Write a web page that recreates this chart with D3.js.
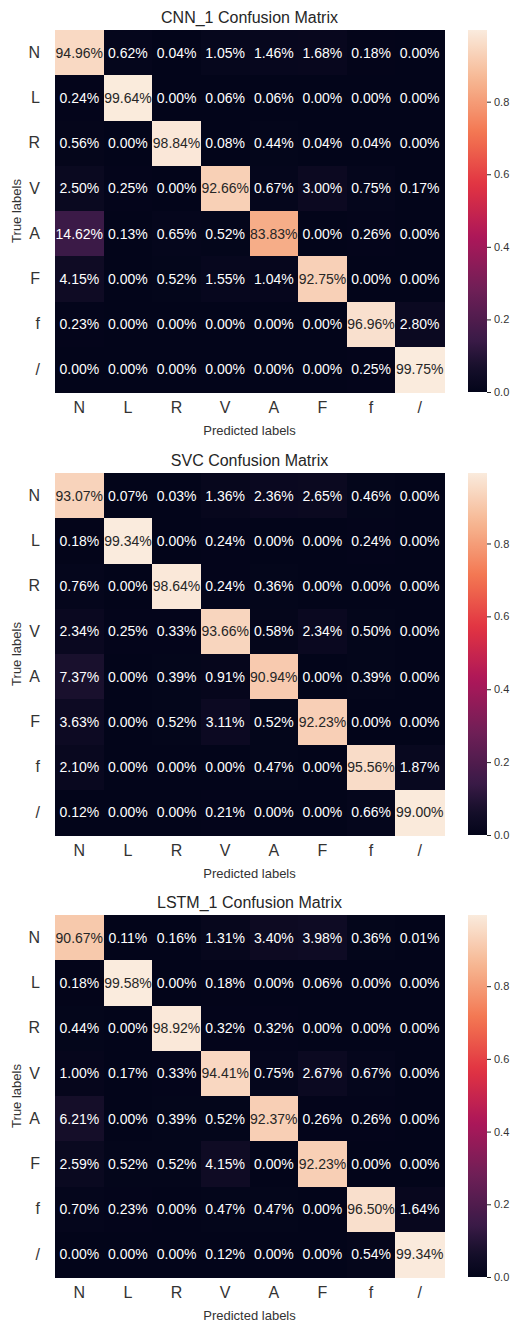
<!DOCTYPE html>
<html>
<head>
<meta charset="utf-8">
<script src="https://cdn.jsdelivr.net/npm/d3@7"></script>
<style>
  body { margin: 0; background: #fff; }
  svg { display: block; font-family: "Liberation Sans", Arial, sans-serif; }
  .domain { display: none; }
  .tick text { fill: #333333; }
  rect.cell { shape-rendering: crispEdges; }
</style>
</head>
<body>
<div id="chart"></div>
<script>
// class labels (rows = true, columns = predicted)
const classLabels = ['N', 'L', 'R', 'V', 'A', 'F', 'f', '/'];
const titles = ['CNN_1 Confusion Matrix', 'SVC Confusion Matrix', 'LSTM_1 Confusion Matrix'];

// percentages, as printed in the cells
const cnnValues = [
    [94.96, 0.62, 0.04, 1.05, 1.46, 1.68, 0.18, 0.00],
    [0.24, 99.64, 0.00, 0.06, 0.06, 0.00, 0.00, 0.00],
    [0.56, 0.00, 98.84, 0.08, 0.44, 0.04, 0.04, 0.00],
    [2.50, 0.25, 0.00, 92.66, 0.67, 3.00, 0.75, 0.17],
    [14.62, 0.13, 0.65, 0.52, 83.83, 0.00, 0.26, 0.00],
    [4.15, 0.00, 0.52, 1.55, 1.04, 92.75, 0.00, 0.00],
    [0.23, 0.00, 0.00, 0.00, 0.00, 0.00, 96.96, 2.80],
    [0.00, 0.00, 0.00, 0.00, 0.00, 0.00, 0.25, 99.75]
];
const svcValues = [
    [93.07, 0.07, 0.03, 1.36, 2.36, 2.65, 0.46, 0.00],
    [0.18, 99.34, 0.00, 0.24, 0.00, 0.00, 0.24, 0.00],
    [0.76, 0.00, 98.64, 0.24, 0.36, 0.00, 0.00, 0.00],
    [2.34, 0.25, 0.33, 93.66, 0.58, 2.34, 0.50, 0.00],
    [7.37, 0.00, 0.39, 0.91, 90.94, 0.00, 0.39, 0.00],
    [3.63, 0.00, 0.52, 3.11, 0.52, 92.23, 0.00, 0.00],
    [2.10, 0.00, 0.00, 0.00, 0.47, 0.00, 95.56, 1.87],
    [0.12, 0.00, 0.00, 0.21, 0.00, 0.00, 0.66, 99.00]
];
const lstmValues = [
    [90.67, 0.11, 0.16, 1.31, 3.40, 3.98, 0.36, 0.01],
    [0.18, 99.58, 0.00, 0.18, 0.00, 0.06, 0.00, 0.00],
    [0.44, 0.00, 98.92, 0.32, 0.32, 0.00, 0.00, 0.00],
    [1.00, 0.17, 0.33, 94.41, 0.75, 2.67, 0.67, 0.00],
    [6.21, 0.00, 0.39, 0.52, 92.37, 0.26, 0.26, 0.00],
    [2.59, 0.52, 0.52, 4.15, 0.00, 92.23, 0.00, 0.00],
    [0.70, 0.23, 0.00, 0.47, 0.47, 0.00, 96.50, 1.64],
    [0.00, 0.00, 0.00, 0.12, 0.00, 0.00, 0.54, 99.34]
];
const colorbarTicks = [0.0, 0.2, 0.4, 0.6, 0.8];

// seaborn "rocket" colormap stops
const rocketStops = [0, 0.07, 1 / 7, 2 / 7, 3 / 7, 4 / 7, 5 / 7, 6 / 7, 1];
const rocketColors = ['#03051a', '#170f2b', '#3a1a47', '#701f57', '#ad1759', '#e13342', '#f37651', '#f6b48f', '#faebdd'];

const width = 520, height = 1322;
const gridLeft = 55, gridRight = 444, gridHeight = 362;
const panelTops = [30, 473, 915];
const cbLeft = 468, cbWidth = 19;

const svg = d3.select('#chart').append('svg')
    .attr('width', width)
    .attr('height', height);

const defs = svg.append('defs');

[cnnValues, svcValues, lstmValues].forEach((matrix, p) => {
    const top = panelTops[p];
    const bottom = top + gridHeight;
    const vmin = d3.min(matrix.flat()) / 100;
    const vmax = d3.max(matrix.flat()) / 100;

    const x = d3.scaleBand().domain(classLabels).range([gridLeft, gridRight]);
    const y = d3.scaleBand().domain(classLabels).range([top, bottom]);
    const color = d3.scaleLinear()
        .domain(rocketStops.map(s => vmin + s * (vmax - vmin)))
        .range(rocketColors)
        .interpolate(d3.interpolateRgb)
        .clamp(true);

    const g = svg.append('g');

    let cells = [];
    matrix.forEach((row, i) => row.forEach((v, j) => {
        cells.push({ row: classLabels[i], col: classLabels[j], value: v });
    }));

    g.selectAll('rect.cell')
        .data(cells)
        .enter().append('rect')
        .attr('class', 'cell')
        .attr('x', d => x(d.col))
        .attr('y', d => y(d.row))
        .attr('width', x.bandwidth() + 0.6)
        .attr('height', y.bandwidth() + 0.6)
        .attr('fill', d => color(d.value / 100));

    g.selectAll('text.annot')
        .data(cells)
        .enter().append('text')
        .attr('class', 'annot')
        .attr('x', d => x(d.col) + x.bandwidth() / 2)
        .attr('y', d => y(d.row) + y.bandwidth() / 2)
        .attr('dy', '0.36em')
        .attr('text-anchor', 'middle')
        .attr('font-size', 14)
        .attr('fill', d => {
            let c = d3.rgb(color(d.value / 100));
            let lum = 0.2126 * c.r + 0.7152 * c.g + 0.0722 * c.b;
            return lum / 255 > 0.408 ? '#262626' : '#ffffff';
        })
        .text(d => d.value.toFixed(2) + '%');

    // axes
    g.append('g')
        .attr('transform', `translate(0,${bottom})`)
        .call(d3.axisBottom(x).tickSize(0).tickPadding(10))
        .call(a => a.selectAll('text').attr('font-size', 16).attr('font-family', null));

    g.append('g')
        .attr('transform', `translate(${gridLeft},0)`)
        .call(d3.axisLeft(y).tickSize(0).tickPadding(15))
        .call(a => a.selectAll('text').attr('font-size', 16).attr('font-family', null));

    g.append('text')
        .attr('x', (gridLeft + gridRight) / 2)
        .attr('y', top - 7)
        .attr('text-anchor', 'middle')
        .attr('font-size', 16)
        .attr('fill', '#262626')
        .text(titles[p]);

    g.append('text')
        .attr('x', (gridLeft + gridRight) / 2)
        .attr('y', bottom + 43)
        .attr('text-anchor', 'middle')
        .attr('font-size', 13)
        .attr('fill', '#333333')
        .text('Predicted labels');

    g.append('text')
        .attr('transform', `translate(21,${(top + bottom) / 2}) rotate(-90)`)
        .attr('text-anchor', 'middle')
        .attr('font-size', 13)
        .attr('fill', '#333333')
        .text('True labels');

    // colorbar
    const gradId = 'cb-grad-' + p;
    const grad = defs.append('linearGradient')
        .attr('id', gradId)
        .attr('x1', 0).attr('y1', 1).attr('x2', 0).attr('y2', 0);
    grad.selectAll('stop')
        .data(d3.range(0, 1.0001, 0.02))
        .enter().append('stop')
        .attr('offset', d => d)
        .attr('stop-color', d => color(vmin + d * (vmax - vmin)));

    const cbScale = d3.scaleLinear().domain([vmin, vmax]).range([bottom, top]);

    g.append('rect')
        .attr('x', cbLeft)
        .attr('y', top)
        .attr('width', cbWidth)
        .attr('height', gridHeight)
        .attr('fill', `url(#${gradId})`);

    g.append('g')
        .attr('transform', `translate(${cbLeft + cbWidth},0)`)
        .call(d3.axisRight(cbScale).tickValues(colorbarTicks).tickFormat(d3.format('.1f')).tickSize(4).tickPadding(3))
        .call(a => a.selectAll('line').attr('stroke', '#262626'))
        .call(a => a.selectAll('text').attr('font-size', 11).attr('font-family', null));
});
</script>
</body>
</html>
